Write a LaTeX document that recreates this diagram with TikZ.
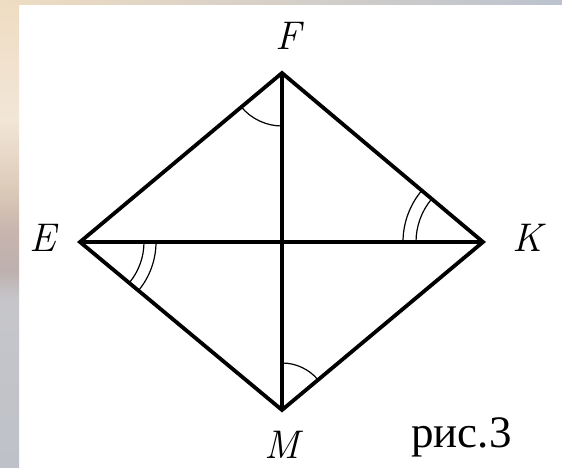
\documentclass[tikz,border=0pt]{standalone}
\usepackage{fontspec}
\newfontfamily\ruserif{Liberation Serif}
\usetikzlibrary{angles}
\definecolor{sA}{HTML}{BEC1C9}
\definecolor{sB}{HTML}{C6C6CA}
\definecolor{sC}{HTML}{BDB0AE}
\definecolor{sD}{HTML}{C8B5AE}
\definecolor{sE}{HTML}{DCCAB8}
\definecolor{sF}{HTML}{F2E6D8}
\definecolor{sG}{HTML}{EFDCC2}
\definecolor{tR}{HTML}{BCC3CE}
\definecolor{tM}{HTML}{D2C8C0}
\begin{document}
\begin{tikzpicture}[x=1pt,y=1pt,
  edge/.style={line width=3.8pt, line join=miter},
  anglemark/.style={draw, line width=1.2pt, angle radius=#1pt},
  vlabel/.style={font=\fontsize{40}{44}\selectfont\itshape, inner sep=0pt, anchor=center},
  caption/.style={font=\fontsize{45}{48}\selectfont\ruserif, inner sep=0pt, anchor=base west}]
\useasboundingbox (0,0) rectangle (562,468);
\fill[white] (0,0) rectangle (562,468);
% left decorative strip
\shade[bottom color=sA, top color=sB] (0,0) rectangle (19,168.5);
\shade[bottom color=sB, top color=sC] (0,168) rectangle (19,198.5);
\shade[bottom color=sC, top color=sD] (0,198) rectangle (19,238.5);
\shade[bottom color=sD, top color=sE] (0,238) rectangle (19,278.5);
\shade[bottom color=sE, top color=sF] (0,278) rectangle (19,348.5);
\shade[bottom color=sF, top color=sG] (0,348) rectangle (19,468);
% top decorative strip
\shade[left color=sG, middle color=tM, right color=tR] (0,463) rectangle (562,468);
% vertices
\coordinate (E) at (80,226);
\coordinate (K) at (483,226);
\coordinate (F) at (282,395);
\coordinate (M) at (282,58);
% rhombus and diagonals
\draw[edge] (E) -- (F) -- (K) -- (M) -- cycle;
\draw[edge] (E) -- (K);
\draw[edge] (F) -- (M);
% angle marks
\pic[anglemark=53] {angle = E--F--M};
\pic[anglemark=47] {angle = K--M--F};
\pic[anglemark=64] {angle = M--E--K};
\pic[anglemark=76] {angle = M--E--K};
\pic[anglemark=67] {angle = F--K--E};
\pic[anglemark=80] {angle = F--K--E};
% labels
\node[vlabel] (lF) at (288,432.5) {F};
\node[vlabel] (lE) at (42.5,230.5) {E};
\node[vlabel] (lK) at (527.5,230.5) {K};
\node[vlabel] (lM) at (282.5,23) {M};
\node[caption] (cap) at (411,20) {рис.3};
\end{tikzpicture}
\end{document}
